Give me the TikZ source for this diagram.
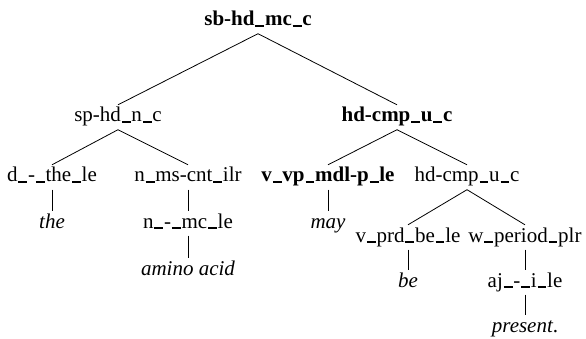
\documentclass[tikz,border=0pt]{standalone}
\usepackage{fontspec}
\setmainfont{Liberation Serif}
\newcommand{\us}{\kern0.04em\rule[-0.03em]{0.42em}{0.09em}\kern0.04em}
\begin{document}
\begin{tikzpicture}[x=1pt,y=-1pt,
  lab/.style={anchor=base,inner xsep=0pt,inner ysep=3pt,text height=14pt,text depth=4.5pt,font=\fontsize{21}{25}\selectfont},
  blab/.style={lab,font=\fontsize{21}{25}\selectfont\bfseries},
  word/.style={lab,font=\fontsize{21}{25}\selectfont\itshape},
  edge/.style={line width=0.8pt}]
\useasboundingbox (0,0) rectangle (586,339);
\node[blab] (root) at (258,26) {sb-hd\us mc\us c};
\node[lab]  (sp)   at (118,122) {sp-hd\us n\us c};
\node[blab] (hd1)  at (397,122) {hd-cmp\us u\us c};
\node[lab]  (d)    at (52,182) {d\us-\us the\us le};
\node[lab]  (n)    at (188,182) {n\us ms-cnt\us ilr};
\node[blab] (v)    at (328,182) {v\us vp\us mdl-p\us le};
\node[lab]  (hd2)  at (467,182) {hd-cmp\us u\us c};
\node[word] (the)  at (52,228) {the};
\node[lab]  (nmc)  at (188,228) {n\us-\us mc\us le};
\node[word] (may)  at (328,228) {may};
\node[word] (amino) at (188,275) {amino acid};
\node[lab]  (vprd) at (408,242) {v\us prd\us be\us le};
\node[lab]  (wper) at (525,242) {w\us period\us plr};
\node[word] (be)   at (408,287) {be};
\node[lab]  (aj)   at (525,287) {aj\us-\us i\us le};
\node[lab]  (pres) at (525,332) {\textit{present}.};
\draw[edge] (root.south) -- (sp.north);
\draw[edge] (root.south) -- (hd1.north);
\draw[edge] (sp.south) -- (d.north);
\draw[edge] (sp.south) -- (n.north);
\draw[edge] (hd1.south) -- (v.north);
\draw[edge] (hd1.south) -- (hd2.north);
\draw[edge] (d.south) -- (the.north);
\draw[edge] (n.south) -- (nmc.north);
\draw[edge] (nmc.south) -- (amino.north);
\draw[edge] (v.south) -- (may.north);
\draw[edge] (hd2.south) -- (vprd.north);
\draw[edge] (hd2.south) -- (wper.north);
\draw[edge] (vprd.south) -- (be.north);
\draw[edge] (wper.south) -- (aj.north);
\draw[edge] (aj.south) -- (pres.north);
\end{tikzpicture}
\end{document}
